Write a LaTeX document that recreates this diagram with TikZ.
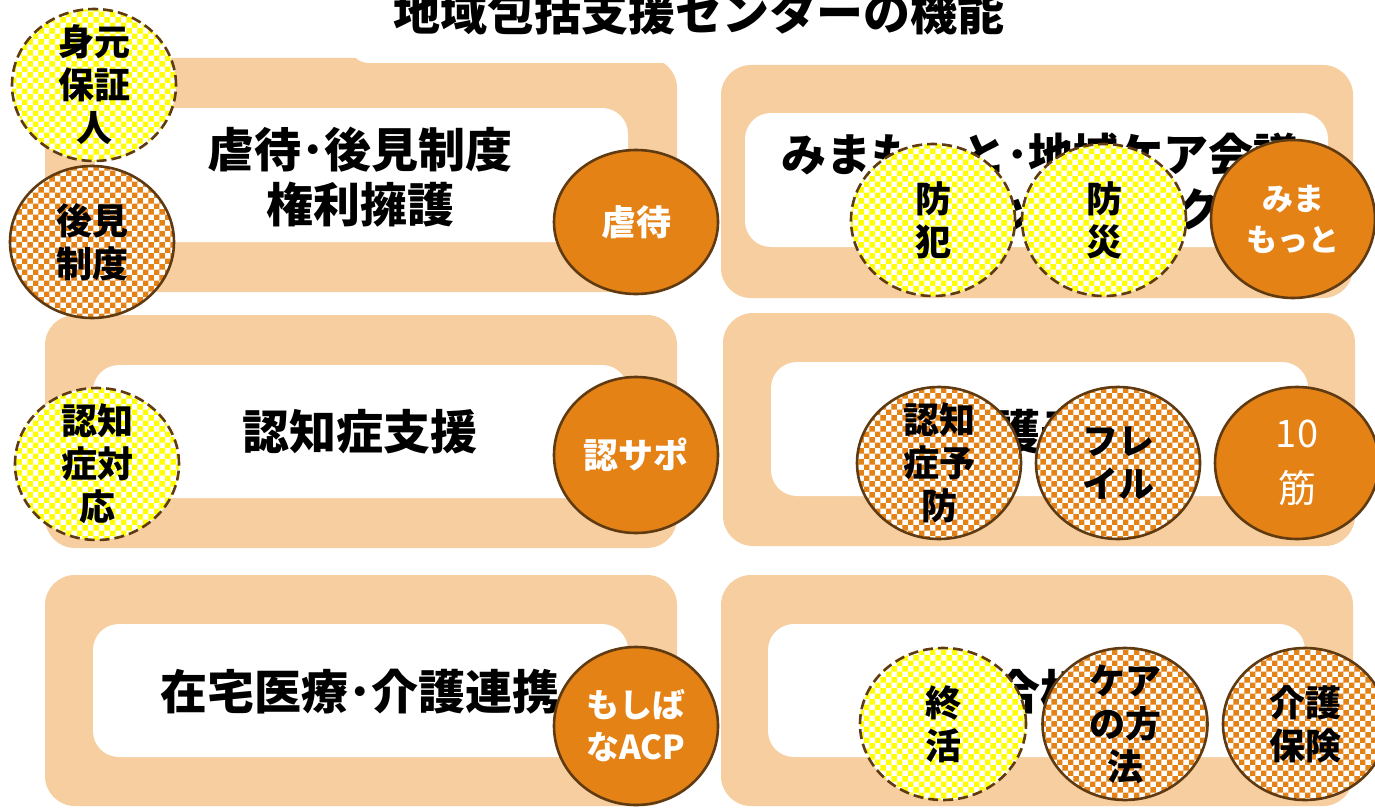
\documentclass[tikz,border=0pt]{standalone}
\usepackage{fontspec}
\setmainfont{Noto Sans CJK JP}
\usetikzlibrary{patterns,shapes.geometric}
\definecolor{peach}{RGB}{246,206,159}
\definecolor{orng}{RGB}{228,130,22}
\definecolor{brn}{RGB}{96,58,16}
\definecolor{yel}{RGB}{255,255,0}
\tikzset{
  outerbox/.style={fill=peach, rounded corners=30pt},
  innerbox/.style={fill=white, rounded corners=26pt},
  maintext/.style={font=\bfseries\fontsize{47}{55}\selectfont, align=center, inner sep=0pt},
  circbase/.style={ellipse, line width=2.6pt, draw=brn, inner sep=0pt, minimum width=164pt, minimum height=152pt},
  orangec/.style={circbase, fill=orng},
  checkc/.style={circbase, preaction={fill=white}, pattern=checkerboard, pattern color=orng},
  yellowc/.style={circbase, preaction={fill=white}, pattern=checkerboard, pattern color=yel, dash pattern=on 10pt off 5pt},
  darklabel/.style={font=\bfseries\fontsize{36}{43}\selectfont, align=center, inner sep=0pt, text=black},
  lightlabel/.style={font=\bfseries\fontsize{34}{41}\selectfont, align=center, inner sep=0pt, text=white},
}
\begin{document}
\begin{tikzpicture}[x=1pt,y=-1pt]
\useasboundingbox (0,0) rectangle (1375,808);
% outer boxes
\fill[outerbox] (45,58) rectangle (677,292);
\fill[outerbox] (45,315) rectangle (677,548);
\fill[outerbox] (45,575) rectangle (677,806);
\fill[outerbox] (721,65) rectangle (1353,298);
\fill[outerbox] (723,313) rectangle (1355,546);
\fill[outerbox] (721,575) rectangle (1353,806);
% inner boxes
\fill[innerbox] (95,108) rectangle (628,242);
\fill[innerbox] (93,365) rectangle (628,498);
\fill[innerbox] (93,624) rectangle (628,757);
\fill[innerbox] (745,113) rectangle (1328,247);
\fill[innerbox] (771,362) rectangle (1308,496);
\fill[innerbox] (768,624) rectangle (1305,757);
% title
\node[fill=white, rounded corners=20pt, minimum width=700pt, minimum height=100pt, inner sep=0pt,
      font=\bfseries\fontsize{47}{52}\selectfont] (title) at (699,13) {地域包括支援センターの機能};
% main texts
\node[maintext] (t1) at (360,177) {虐待･後見制度\\権利擁護};
\node[maintext] (t2) at (360,432) {認知症支援};
\node[maintext] (t3) at (360,692) {在宅医療･介護連携};
\node[maintext, font=\bfseries\fontsize{45}{55}\selectfont] (t4) at (1040,182) {みまもっと･地域ケア会議\\地域ネットワーク};
\node[maintext] (t5) at (1040,432) {介護予防};
\node[maintext] (t6) at (1040,692) {総合相談};
% left column circles
\node[yellowc] (c1) at (94,85) {};
\node[darklabel] at (c1) {身元\\保証\\人};
\node[checkc] (c2) at (92,242) {};
\node[darklabel] at (c2) {後見\\制度};
\node[orangec, minimum height=144pt] (c3) at (636,222) {};
\node[lightlabel, font=\bfseries\fontsize{35}{42}\selectfont] at (c3) {虐待};
\node[yellowc] (c4) at (97,464) {};
\node[darklabel] at (c4) {認知\\症対\\応};
\node[orangec, minimum height=156pt] (c5) at (636,455) {};
\node[lightlabel, font=\bfseries\fontsize{35}{42}\selectfont] at (c5) {認サポ};
\node[orangec, minimum height=158pt] (c6) at (636,726) {};
\node[lightlabel, font=\bfseries\fontsize{33}{42}\selectfont] at (c6) {もしば\\なACP};
% right column circles
\node[yellowc] (c7) at (933,220) {};
\node[darklabel] at (c7) {防\\犯};
\node[yellowc] (c8) at (1104,220) {};
\node[darklabel] at (c8) {防\\災};
\node[orangec, minimum height=158pt] (c9) at (1293,219) {};
\node[lightlabel, font=\bfseries\fontsize{31}{41}\selectfont] at (c9) {みま\\もっと};
\node[checkc] (c10) at (939,463) {};
\node[darklabel] at (c10) {認知\\症予\\防};
\node[checkc] (c11) at (1118,463) {};
\node[darklabel] at (c11) {フレ\\イル};
\node[orangec] (c12) at (1297,463) {};
\node[lightlabel, font=\fontsize{38}{55}\selectfont] at (c12) {10\\筋};
\node[yellowc, minimum width=166pt] (c13) at (943,724) {};
\node[darklabel] at (c13) {終\\活};
\node[checkc, minimum width=165pt] (c14) at (1125,724) {};
\node[darklabel] at (c14) {ケア\\の方\\法};
\node[checkc] (c15) at (1305,724) {};
\node[darklabel] at (c15) {介護\\保険};
\end{tikzpicture}
\end{document}
